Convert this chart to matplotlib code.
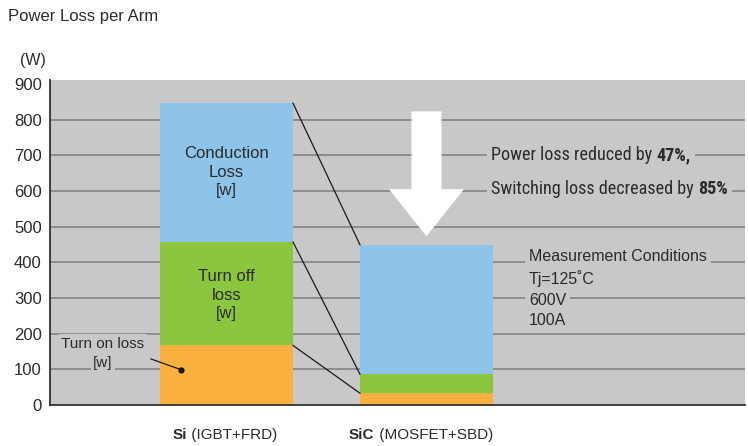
import numpy as np
import matplotlib
matplotlib.use("Agg")
import matplotlib.pyplot as plt
from matplotlib import font_manager
from matplotlib.patches import Polygon
from matplotlib.offsetbox import TextArea, HPacker, AnnotationBbox

plt.rcParams["font.family"] = ["Liberation Sans", "DejaVu Sans"]

# data (W per arm)
devices = ["Si", "SiC"]
device_notes = [" (IGBT+FRD)", " (MOSFET+SBD)"]
turn_on_loss = [167, 33]
turn_off_loss = [290, 53]
conduction_loss = [389, 363]
y_ticks = [0, 100, 200, 300, 400, 500, 600, 700, 800, 900]
grid_values = [100, 200, 300, 400, 500, 600, 700, 800]
conditions = ["Measurement Conditions", "Tj=125˚C", "600V", "100A"]

BG = "#c8c8c8"
GRID = "#7d7d7d"
TXT = "#2b2b2b"
C_ON = "#fbb040"
C_OFF = "#8cc63f"
C_COND = "#8fc4ea"
BAR_W = 0.665

# pick a condensed face for the headline text, if one is installed
installed = {f.name for f in font_manager.fontManager.ttflist}
narrow_pick = [n for n in ["Liberation Sans Narrow", "Roboto Condensed", "PT Sans Narrow",
                           "Archivo Narrow", "Asap Condensed"] if n in installed]
NARROW = narrow_pick[:1] + ["Liberation Sans", "DejaVu Sans"]

fig = plt.figure(figsize=(7.48, 4.46), dpi=100)
ax = fig.add_axes([50 / 748, 1 - 405 / 446, 695 / 748, 325 / 446])
ax.set_facecolor(BG)
ax.set_xlim(-0.8825, 2.5925)
ax.set_ylim(0, 911)

# size the headline so "Power loss reduced by 47%," spans ~201 px
renderer = fig.canvas.get_renderer()
probe = fig.text(0, 0, "Power loss reduced by ", fontsize=14, family=NARROW)
probe_b = fig.text(0, 0, "47%,", fontsize=14, family=NARROW, fontweight="bold")
w_probe = (probe.get_window_extent(renderer).width
           + probe_b.get_window_extent(renderer).width)
probe.remove()
probe_b.remove()
HEAD_FS = 14 * 201 / w_probe

x = np.arange(len(devices))
on = np.array(turn_on_loss)
off = np.array(turn_off_loss)
cond = np.array(conduction_loss)

ax.hlines(grid_values, *ax.get_xlim(), colors=GRID, lw=1.1, zorder=0)
ax.bar(x, on, BAR_W, color=C_ON, zorder=2)
ax.bar(x, off, BAR_W, bottom=on, color=C_OFF, zorder=2)
ax.bar(x, cond, BAR_W, bottom=on + off, color=C_COND, zorder=2)

# connector lines between matching segment tops
tops = np.vstack([on, on + off, on + off + cond])
for t in tops:
    ax.plot([x[0] + BAR_W / 2, x[1] - BAR_W / 2], [t[0], t[1]],
            color="#1a1a1a", lw=0.9, zorder=3)

# big white arrow above SiC bar
ax_tip, head_base, shaft_top = 473, 605, 823
sw, hw = 0.075, 0.1875
xc = x[1]
arrow = Polygon([(xc - sw, shaft_top), (xc + sw, shaft_top), (xc + sw, head_base),
                 (xc + hw, head_base), (xc, ax_tip), (xc - hw, head_base),
                 (xc - sw, head_base)], closed=True, fc="white", ec="none", zorder=4)
ax.add_patch(arrow)

# labels inside Si bar
ax.text(x[0], on[0] + off[0] + cond[0] / 2 + 1, "Conduction\nLoss\n[w]",
        ha="center", va="center", fontsize=12, color=TXT, zorder=5, linespacing=1.28)
ax.text(x[0], on[0] + off[0] / 2 - 4, "Turn off\nloss\n[w]",
        ha="center", va="center", fontsize=12, color=TXT, zorder=5, linespacing=1.28)

# turn on loss callout
box = dict(fc=BG, ec="none", pad=1.5)
ax.text(-0.6175, 172, "Turn on loss", ha="center", va="center", fontsize=11,
        color=TXT, bbox=box, zorder=5)
ax.text(-0.6175, 119, "[w]", ha="center", va="center", fontsize=11,
        color=TXT, bbox=box, zorder=5)
ax.plot([-0.3775, -0.2275], [129, 99], color="#1a1a1a", lw=0.9, zorder=5)
ax.plot([-0.2275], [99], "o", color="#1a1a1a", ms=3.5, zorder=5)


def mixed_text(parts, xy, align, fontsize, family):
    kids = [TextArea(s, textprops=dict(fontsize=fontsize, color=TXT, family=family,
                                       fontweight=w)) for s, w in parts]
    pack = HPacker(children=kids, pad=0, sep=0, align="baseline")
    ab = AnnotationBbox(pack, xy, xycoords="data", box_alignment=align,
                        frameon=True, pad=0.3,
                        bboxprops=dict(fc=BG, ec="none"), zorder=6)
    ax.add_artist(ab)


mixed_text([("Power loss reduced by ", "normal"), ("47%,", "bold")],
           (1.3225, 700), (0, 0.5), HEAD_FS, NARROW)
mixed_text([("Switching loss decreased by ", "normal"), ("85%", "bold")],
           (1.3225, 605), (0, 0.5), HEAD_FS, NARROW)

# measurement conditions
cond_y = [416, 355, 294, 236]
for s, yy in zip(conditions, cond_y):
    bb = dict(fc=BG, ec="none", pad=3) if s in ("Measurement Conditions", "600V") else None
    ax.text(1.5125, yy, s, ha="left", va="center", fontsize=11.5, color=TXT,
            bbox=bb, zorder=5)

# x category labels (bold device + regular note)
for xi, d, n, dx in zip(x, devices, device_notes, [-1, -4]):
    kids = [TextArea(d, textprops=dict(fontsize=11, color=TXT, fontweight="bold")),
            TextArea(n, textprops=dict(fontsize=11, color=TXT))]
    pack = HPacker(children=kids, pad=0, sep=0, align="baseline")
    ab = AnnotationBbox(pack, (xi, 0), xycoords="data", xybox=(dx, -21.5),
                        boxcoords="offset points", box_alignment=(0.5, 0.5),
                        frameon=False, annotation_clip=False)
    ax.add_artist(ab)

ax.set_xticks([])
ax.set_yticks(y_ticks)
ax.tick_params(axis="y", length=0, pad=6, labelsize=12, labelcolor=TXT)
for s in ["top", "right"]:
    ax.spines[s].set_visible(False)
for s in ["left", "bottom"]:
    ax.spines[s].set_color("#333333")
    ax.spines[s].set_linewidth(1.3)

fig.text(8 / 748, 1 - 17 / 446, "Power Loss per Arm", fontsize=12,
         color=TXT, va="center", ha="left")
fig.text(33 / 748, 1 - 60 / 446, "(W)", fontsize=11.5, color=TXT,
         va="center", ha="center")

fig.savefig("out.png", dpi=100, facecolor="white")
